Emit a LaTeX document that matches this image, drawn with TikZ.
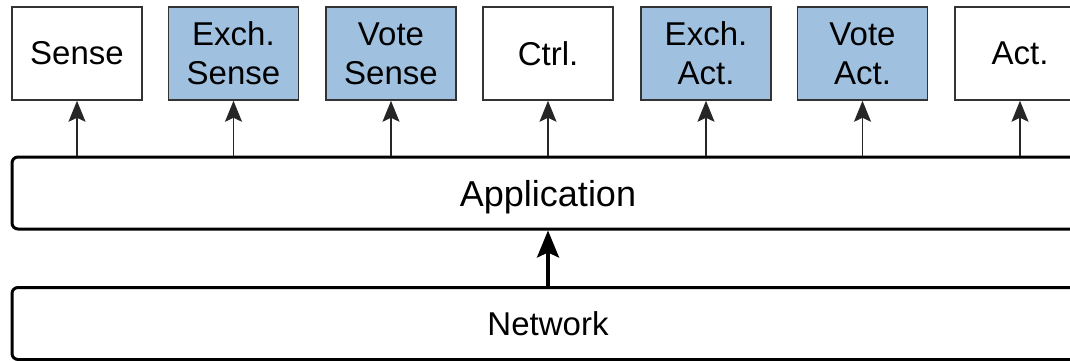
\documentclass[tikz,border=0pt]{standalone}
\usepackage{fontspec}
\setmainfont{Liberation Sans}
\usetikzlibrary{arrows.meta}
\definecolor{modblue}{HTML}{9FC0DF}
\definecolor{edgegray}{HTML}{333333}
\tikzset{
  stage/.style={draw=edgegray, line width=1.5pt, minimum width=130pt, minimum height=93pt,
    inner sep=0pt, align=center, font=\fontsize{33}{39}\selectfont},
  redund/.style={stage, fill=modblue},
  plain/.style={stage, fill=white},
  layer/.style={draw=black, line width=3pt, rounded corners=6pt, minimum width=1072pt,
    minimum height=72pt, inner sep=0pt, fill=white},
  feed/.style={draw=black!85, line width=1.6pt, -{Stealth[length=21pt,width=17pt,inset=4pt]}},
  bigfeed/.style={draw=black, line width=3.5pt, -{Stealth[length=27pt,width=22pt,inset=5pt]}}
}
\begin{document}
\begin{tikzpicture}[x=1pt,y=-1pt]
\clip (0,0) rectangle (1070,361);
% layers
\node[layer, font=\fontsize{36}{40}\selectfont, text depth=0pt] (app) at (548,193) {Application};
\node[layer, font=\fontsize{33}{38}\selectfont] (net) at (548,323.5) {Network};
% stage boxes
\node[plain]  (sense)  at (77,53.5)    {Sense};
\node[redund] (xsense) at (233.5,53.5) {Exch.\\Sense};
\node[redund] (vsense) at (391,53.5)   {Vote\\Sense};
\node[plain]  (ctrl)   at (548,53.5)   {Ctrl.};
\node[redund] (xact)   at (706,53.5)   {Exch.\\Act.};
\node[redund] (vact)   at (862.5,53.5) {Vote\\Act.};
\node[plain]  (act)    at (1020,53.5)  {Act.};
% connectors from the application layer up to each stage
\foreach \s in {sense,xsense,vsense,ctrl,xact,vact,act}
  \draw[feed] (app.north -| \s.south) -- (\s.south);
% network feeds the application
\draw[bigfeed] (net.north) -- (app.south);
\end{tikzpicture}
\end{document}
